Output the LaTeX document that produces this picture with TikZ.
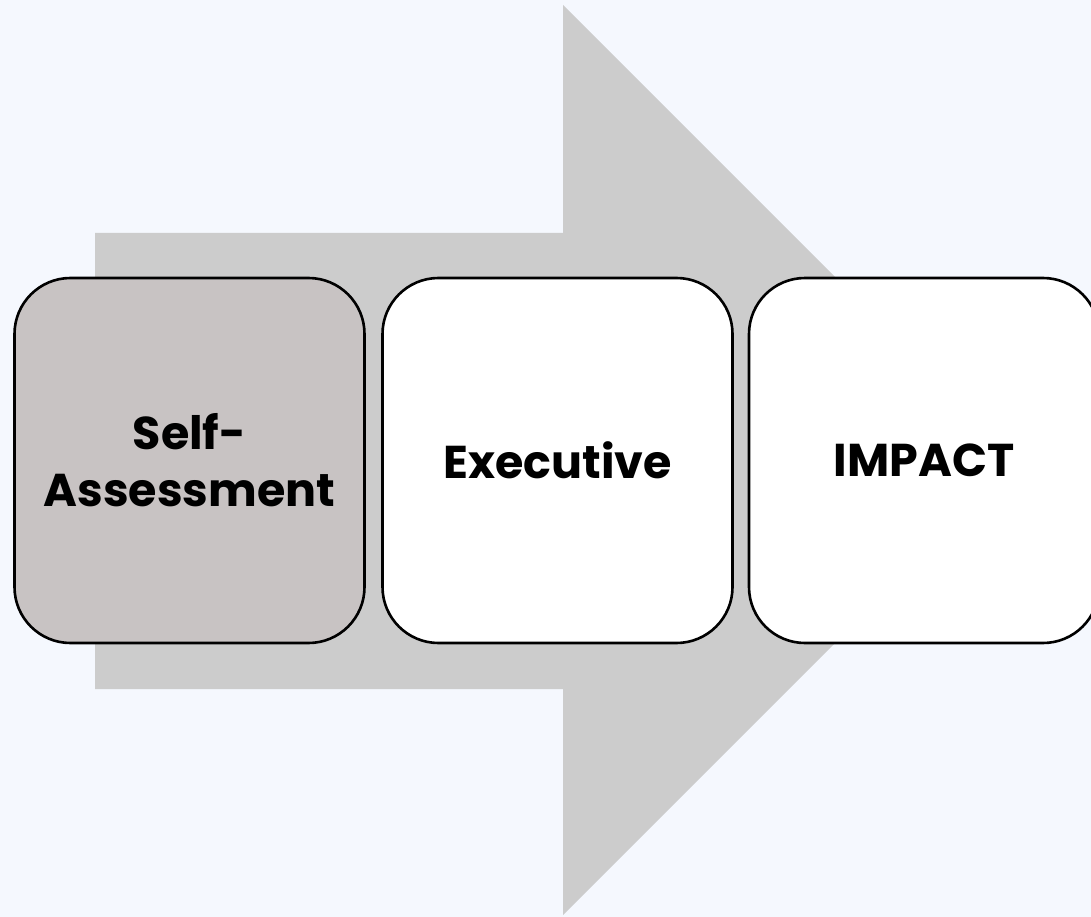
\documentclass[tikz,border=0pt]{standalone}
\usepackage{fontspec}
\setmainfont{Poppins}
\definecolor{bg}{HTML}{F5F8FE}
\definecolor{arrowgrey}{HTML}{CCCCCC}
\definecolor{boxgrey}{HTML}{C8C3C3}
\tikzset{
  stage/.style={draw=black, line width=2.6pt, rounded corners=56pt, minimum width=350pt, minimum height=365pt, inner sep=0pt, align=center, font=\fontsize{46}{57}\selectfont\bfseries, text=black},
}
\begin{document}
\begin{tikzpicture}[x=1pt,y=-1pt]
\useasboundingbox (0,0) rectangle (1091,917);
\fill[bg] (0,0) rectangle (1091,917);
\fill[arrowgrey] (95,233) -- (563,233) -- (563,5) -- (1018,460) -- (563,915) -- (563,689) -- (95,689) -- cycle;
\begin{scope}
\clip (0,0) rectangle (1091,917);
\node[stage, fill=boxgrey] (s1) at (189.5,460.5) {Self-\\Assessment};
\node[stage, fill=white] (s2) at (557.5,460.5) {Executive};
\node[stage, fill=white] (s3) at (924,460.5) {IMPACT};
\end{scope}
\end{tikzpicture}
\end{document}
